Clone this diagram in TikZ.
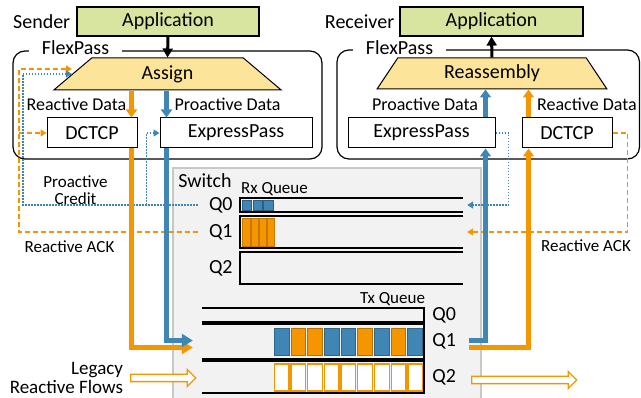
\documentclass[tikz,border=0pt]{standalone}
\usepackage{fontspec}
\setmainfont{Carlito}
\usetikzlibrary{arrows.meta,positioning,shapes.geometric,shapes.arrows}

\definecolor{pblue}{RGB}{64,134,180}
\definecolor{rorange}{RGB}{245,150,0}
\definecolor{appgreen}{RGB}{216,229,160}
\definecolor{mapyellow}{RGB}{253,228,155}
\definecolor{swgray}{RGB}{242,242,242}
\definecolor{swline}{RGB}{200,200,200}

\tikzset{
  big/.style={font=\fontsize{20}{22}\selectfont},
  mid/.style={font=\fontsize{18}{19}\selectfont},
  small/.style={font=\fontsize{17}{16.5}\selectfont},
  lbl/.style={inner sep=0pt},
  appbox/.style={draw, line width=1.2pt, fill=appgreen, minimum width=182pt, minimum height=29pt, inner sep=0pt, big},
  ccbox/.style={draw, line width=1pt, fill=white, minimum height=30pt, inner sep=0pt, big},
  mapper/.style={trapezium, trapezium stretches, draw, line width=1pt, fill=mapyellow, minimum height=32pt, inner sep=0pt, big},
  flexbox/.style={draw, line width=1.2pt, rounded corners=12pt, inner sep=0pt},
  flexlbl/.style={big, fill=white, inner xsep=13pt, inner ysep=0pt},
  qbox/.style={inner sep=0pt},
  qline/.style={line width=1.5pt},
  pkt/.style={inner sep=0pt, line width=0.9pt},
  sysarrow/.style={line width=3pt, -{Triangle[length=9pt,width=10pt]}},
  proactarrow/.style={pblue, line width=4.5pt, -{Triangle[length=8pt,width=11pt]}},
  reactarrow/.style={rorange, line width=4.5pt, -{Triangle[length=8pt,width=11pt]}},
  bighead/.style={-{Triangle[length=11pt,width=13pt]}},
  credline/.style={pblue, line width=1.4pt, dash pattern=on 1.5pt off 1.5pt, -{Triangle[length=6pt,width=7pt]}},
  ackline/.style={rorange, line width=1.4pt, dash pattern=on 5pt off 3pt, -{Triangle[length=6pt,width=7pt]}},
  legarrow/.style={single arrow, draw=rorange, fill=white, line width=1.3pt, inner sep=3pt, single arrow head extend=5pt, single arrow head indent=0pt},
}

\begin{document}
\begin{tikzpicture}[x=1pt,y=-1pt]
\useasboundingbox (0,0) rectangle (641,398);

% switch
\fill[swgray] (173,168) rectangle (481,398);
\draw[swline, line width=1.5pt] (173,398) -- (173,168) -- (481,168) -- (481,398);
\node[big, lbl] (sw) at (205,181) {Switch};

% sender host
\node[flexbox, minimum width=309pt, minimum height=108pt] (sflex) at (167.5,105) {};
\node[flexlbl] (sflexlbl) at (75.5,48) {FlexPass};
\node[appbox] (sapp) at (168,21.5) {Application};
\node[big, lbl, left=6pt of sapp] (sndr) {Sender};
\node[mapper, trapezium angle=53.1, minimum width=229pt] (assign) at (167.5,74) {Assign};
\node[ccbox, minimum width=90pt] (sdctcp) at (92,133) {DCTCP};
\node[ccbox, minimum width=152pt] (sxp) at (236,133) {ExpressPass};
\node[mid, lbl] (sreactlbl) at (76.5,104.5) {Reactive Data};
\node[mid, lbl] (sproactlbl) at (227.5,104.5) {Proactive Data};

% receiver host
\node[flexbox, minimum width=302.5pt, minimum height=109pt] (rflex) at (488.25,104.5) {};
\node[flexlbl] (rflexlbl) at (399.5,48) {FlexPass};
\node[appbox, minimum width=183pt] (rapp) at (491.5,21.5) {Application};
\node[big, lbl, left=5pt of rapp] (rcvr) {Receiver};
\node[mapper, trapezium angle=58.5, minimum width=230pt, minimum height=31pt] (reasm) at (492,73.5) {Reassembly};
\node[ccbox, minimum width=147pt] (rxp) at (421.5,133) {ExpressPass};
\node[ccbox, minimum width=90pt] (rdctcp) at (567,133) {DCTCP};
\node[mid, lbl] (rproactlbl) at (425,104.5) {Proactive Data};
\node[mid, lbl] (rreactlbl) at (587,104.5) {Reactive Data};

% rx queues (open on the right)
\node[qbox, minimum width=223pt, minimum height=14pt] (rxq0) at (351.5,205) {};
\node[qbox, minimum width=223pt, minimum height=32pt] (rxq1) at (351.5,232) {};
\node[qbox, minimum width=223pt, minimum height=32pt] (rxq2) at (351.5,268) {};
\foreach \q in {rxq0,rxq1,rxq2}
  \draw[qline] (\q.north east) -- (\q.north west) -- (\q.south west) -- (\q.south east);
\node[small, lbl] (rxlbl) at (274.5,189) {Rx Queue};
\node[big, lbl, left=7pt of rxq0] (rx0lbl) {Q0};
\node[big, lbl, left=7pt of rxq1] (rx1lbl) {Q1};
\node[big, lbl, left=7pt of rxq2] (rx2lbl) {Q2};
\foreach \i in {0,1,2}
  \node[pkt, fill=pblue, draw=pblue!70!black, minimum width=9.5pt, minimum height=10.5pt] (rx0p\i) at (247+10.8*\i,205.5) {};
\foreach \i in {0,...,3}
  \node[pkt, fill=rorange, draw=rorange!80!black, minimum width=7.3pt, minimum height=28pt] (rx1p\i) at (246.5+8.2*\i,232) {};

% tx queues (open on the left)
\node[qbox, minimum width=222pt, minimum height=14pt] (txq0) at (313,315) {};
\node[qbox, minimum width=222pt, minimum height=35pt] (txq1) at (313,341.5) {};
\node[qbox, minimum width=222pt, minimum height=32pt] (txq2) at (313,377) {};
\foreach \q in {txq0,txq1,txq2}
  \draw[qline] (\q.north west) -- (\q.north east) -- (\q.south east) -- (\q.south west);
\node[small, lbl] (txlbl) at (392.5,299) {Tx Queue};
\node[big, lbl, right=8pt of txq0] (tx0lbl) {Q0};
\node[big, lbl, right=8pt of txq1] (tx1lbl) {Q1};
\node[big, lbl, right=8pt of txq2] (tx2lbl) {Q2};
\foreach \c [count=\i from 0] in {pblue,rorange,rorange,pblue,pblue,rorange,pblue,rorange,pblue}
  \node[pkt, fill=\c, draw=\c!75!black, minimum width=14.7pt, minimum height=27pt] (tx1p\i) at (281.6+16.7*\i,341.5) {};
\foreach \i in {0,...,8}
  \node[pkt, fill=white, draw=rorange, line width=1.3pt, minimum width=14.7pt, minimum height=27pt] (tx2p\i) at (281.6+16.7*\i,377.5) {};

% credit and ack feedback
\coordinate (scrd) at ([xshift=-42pt]rxq0.west);
\coordinate (sack) at ([xshift=-42pt]rxq1.west);
\coordinate (sxpin) at ([xshift=-13pt]sxp.west);
\coordinate (rcrd) at ([xshift=4pt]rxq0.east);
\coordinate (rack) at ([xshift=4pt]rxq1.east);
\draw[ackline] (sack) -- ++(-179,0) |- ([yshift=5pt]assign.west);
\draw[ackline] ([xshift=-28pt]sdctcp.west) -- (sdctcp.west);
\draw[credline] (scrd) -- ++(-175,0) |- (assign.west);
\draw[credline] (scrd -| sxpin) -- (sxpin) -- (sxp.west);
\draw[credline] (rxp.east) -- ++(13,0) |- (rcrd);
\draw[ackline] (rdctcp.east) -- ++(15,0) |- (rack);
\node[small, lbl, align=center] (credlbl) at (75.5,190) {Proactive\\Credit};
\node[small, lbl] (sacklbl) at (69.5,247) {Reactive ACK};
\node[small, lbl] (racklbl) at (586,246) {Reactive ACK};

% data paths
\draw[sysarrow] (sapp.south) -- (assign.north);
\draw[sysarrow] (reasm.north) -- (rapp.south);
\coordinate (sreact) at ([xshift=-6pt]sdctcp.north east);
\coordinate (sproact) at ([xshift=7pt]sxp.north west);
\coordinate (txinp) at ([xshift=-9pt,yshift=1pt]txq1.west);
\coordinate (txinr) at ([xshift=-9pt,yshift=-6pt]txq1.west);
\draw[reactarrow] (assign.south -| sreact) -- (sreact);
\draw[proactarrow] (assign.south -| sproact) -- (sproact);
\draw[reactarrow, bighead] (sdctcp.south -| sreact) |- (txinr);
\draw[proactarrow, bighead] (sxp.south -| sproact) |- (txinp);

\coordinate (txoutp) at ([xshift=45pt,yshift=1pt]txq1.east);
\coordinate (txoutr) at ([xshift=45pt,yshift=-6pt]txq1.east);
\coordinate (rproact) at ([xshift=-10pt]rxp.north east);
\coordinate (rreact) at ([xshift=7pt]rdctcp.north west);
\draw[proactarrow] (txoutp) -| (rxp.south -| rproact);
\draw[reactarrow] (txoutr) -| (rdctcp.south -| rreact);
\draw[proactarrow] (rproact) -- (reasm.south -| rproact);
\draw[reactarrow] (rreact) -- (reasm.south -| rreact);

% legacy flows
\node[legarrow, minimum height=65pt] (legin) at (161.5,378) {};
\node[legarrow, minimum height=105pt] (legout) at (522.5,380) {};
\node[lbl, align=right, font=\fontsize{19}{19.5}\selectfont, left=7pt of legin] (legtxt) {Legacy\\Reactive Flows};
\end{tikzpicture}
\end{document}
